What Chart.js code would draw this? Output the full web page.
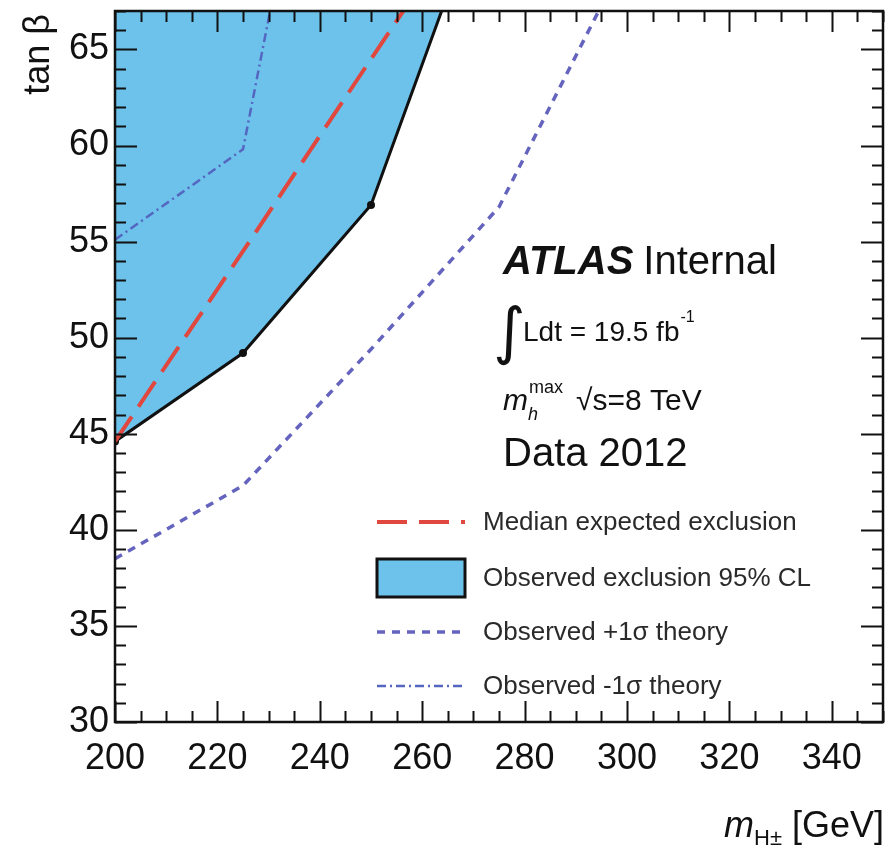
<!DOCTYPE html>
<html><head><meta charset="utf-8">
<script src="https://cdn.jsdelivr.net/npm/chart.js@4.4.1/dist/chart.umd.min.js"></script>
<style>html,body{margin:0;padding:0;background:#fff;}#wrap{width:895px;height:845px;}</style>
</head><body><div id="wrap"><canvas id="c" width="895" height="845"></canvas></div>
<script>
// ---- data ----
const massPoints       = [200, 225, 250, 275];
const observedExcl     = [44.6, 49.2, 56.9, 75.2];
const medianExpected   = [44.6, 54.5, 64.5, 74.4];
const plus1SigmaMass   = [200, 225, 250, 275, 300];
const obsPlus1Sigma    = [38.5, 42.3, 49.4, 56.8, 69.9];
const minus1SigmaMass  = [200, 225, 250];
const obsMinus1Sigma   = [55.1, 59.8, 93.8];
const xTickLabels      = [200, 220, 240, 260, 280, 300, 320, 340];
const yTickLabels      = [30, 35, 40, 45, 50, 55, 60, 65];
const legendLabels     = ['Median expected exclusion', 'Observed exclusion 95% CL', 'Observed +1\u03C3 theory', 'Observed -1\u03C3 theory'];

const FONT = '"Liberation Sans", Arial, Helvetica, sans-serif';
const pts = (xs, ys) => xs.map((x, i) => ({x: x, y: ys[i]}));

const COL_FILL = '#6CC2EB';
const COL_RED = '#E0473E';
const COL_P1 = '#6464BE';
const COL_M1 = '#5566C0';

const frameTicks = {
  id: 'frameTicks',
  afterDatasetsDraw(chart) {
    const {ctx, chartArea: a, scales: {x, y}} = chart;
    ctx.save();
    ctx.strokeStyle = '#111';
    ctx.lineWidth = 2;
    ctx.beginPath();
    for (let v = x.min; v <= x.max + 1e-9; v += 5) {
      const px = Math.round(x.getPixelForValue(v)) + 0.5;
      const len = ((v - 200) % 20 === 0) ? 21 : 11;
      ctx.moveTo(px, a.bottom); ctx.lineTo(px, a.bottom - len);
      ctx.moveTo(px, a.top); ctx.lineTo(px, a.top + len);
    }
    for (let v = 30; v <= y.max + 1e-9; v += 1) {
      const py = Math.round(y.getPixelForValue(v)) + 0.5;
      const len = (v % 5 === 0) ? 22 : 11;
      ctx.moveTo(a.left, py); ctx.lineTo(a.left + len, py);
      ctx.moveTo(a.right, py); ctx.lineTo(a.right - len, py);
    }
    ctx.stroke();
    ctx.lineWidth = 2.5;
    ctx.strokeRect(a.left, a.top, a.right - a.left, a.bottom - a.top);
    ctx.restore();
  }
};

const annotations = {
  id: 'annotations',
  afterDraw(chart) {
    const ctx = chart.ctx;
    ctx.save();
    ctx.fillStyle = '#111';
    ctx.textBaseline = 'alphabetic';
    ctx.textAlign = 'left';
    // ATLAS Internal
    ctx.font = 'italic bold 40px ' + FONT;
    ctx.fillText('ATLAS', 503, 274);
    let w = ctx.measureText('ATLAS').width;
    ctx.font = '40px ' + FONT;
    ctx.fillText('Internal', 503 + w + 10, 274);
    // integral L dt
    ctx.font = '62px "DejaVu Sans", ' + FONT;
    ctx.fillText('\u222B', 493, 352);
    ctx.font = '28px ' + FONT;
    ctx.fillText('Ldt = 19.5 fb', 523, 341);
    w = ctx.measureText('Ldt = 19.5 fb').width;
    ctx.font = '16px ' + FONT;
    ctx.fillText('-1', 523 + w + 1, 322);
    // m_h^max sqrt(s)=8 TeV
    ctx.font = 'italic 30px ' + FONT;
    ctx.fillText('m', 503, 410);
    ctx.font = '18px ' + FONT;
    ctx.fillText('max', 529, 393);
    ctx.font = 'italic 18px ' + FONT;
    ctx.fillText('h', 528, 420);
    ctx.font = '30px ' + FONT;
    ctx.fillText('\u221As=8 TeV', 576, 410);
    // Data 2012
    ctx.font = '40px ' + FONT;
    ctx.fillText('Data 2012', 503, 466);

    // x title
    ctx.font = '36px ' + FONT;
    const gev = ' [GeV]';
    const wg = ctx.measureText(gev).width;
    ctx.font = '22px ' + FONT;
    const wsub = ctx.measureText('H\u00B1').width;
    ctx.font = 'italic 36px ' + FONT;
    const wm = ctx.measureText('m').width;
    const right = 884;
    const x0 = right - wg - wsub - wm;
    ctx.fillText('m', x0, 837);
    ctx.font = '22px ' + FONT;
    ctx.fillText('H\u00B1', x0 + wm, 845);
    ctx.font = '36px ' + FONT;
    ctx.fillText(gev, x0 + wm + wsub, 837);

    // y title (rotated)
    ctx.save();
    ctx.translate(49, 14);
    ctx.rotate(-Math.PI / 2);
    ctx.textAlign = 'right';
    ctx.font = '36px ' + FONT;
    ctx.fillText('tan \u03B2', 0, 0);
    ctx.restore();

    // legend
    const ds = chart.data.datasets;
    const lx0 = 377, lx1 = 465, tx = 483;
    const rows = [522, 578, 632, 686];
    const order = [1, 0, 2, 3];
    ctx.font = '26px ' + FONT;
    ctx.textBaseline = 'middle';
    order.forEach((di, r) => {
      const d = ds[di];
      const yy = rows[r];
      if (di === 0) {
        ctx.fillStyle = COL_FILL;
        ctx.fillRect(lx0, yy - 19, lx1 - lx0, 38);
        ctx.lineWidth = 3;
        ctx.strokeStyle = '#111';
        ctx.strokeRect(lx0, yy - 19, lx1 - lx0, 38);
      } else {
        ctx.beginPath();
        ctx.setLineDash(d.borderDash || []);
        ctx.lineWidth = d.borderWidth;
        ctx.strokeStyle = d.borderColor;
        ctx.moveTo(lx0, yy); ctx.lineTo(lx1, yy);
        ctx.stroke();
        ctx.setLineDash([]);
      }
      ctx.fillStyle = '#2a2a2a';
      ctx.fillText(d.label, tx, yy + 1);
    });
    ctx.restore();
  }
};

new Chart(document.getElementById('c'), {
  type: 'line',
  data: {
    datasets: [
      {
        label: legendLabels[1],
        data: pts(massPoints, observedExcl),
        borderColor: '#111', borderWidth: 3,
        backgroundColor: COL_FILL,
        fill: 'end',
        pointRadius: 4, pointBackgroundColor: '#111', pointBorderWidth: 0,
        order: 4, clip: 0
      },
      {
        label: legendLabels[0],
        data: pts(massPoints, medianExpected),
        borderColor: COL_RED, borderWidth: 4, borderDash: [30, 12],
        pointRadius: 0, fill: false, order: 2, clip: 0
      },
      {
        label: legendLabels[2],
        data: pts(plus1SigmaMass, obsPlus1Sigma),
        borderColor: COL_P1, borderWidth: 3.5, borderDash: [8, 7],
        pointRadius: 0, fill: false, order: 3, clip: 0
      },
      {
        label: legendLabels[3],
        data: pts(minus1SigmaMass, obsMinus1Sigma),
        borderColor: COL_M1, borderWidth: 2.5, borderDash: [9, 4, 2, 4],
        pointRadius: 0, fill: false, order: 1, clip: 0
      }
    ]
  },
  options: {
    responsive: false, animation: false, devicePixelRatio: 1,
    layout: {padding: {top: 11, right: 12, left: 0, bottom: 0}},
    plugins: {legend: {display: false}, tooltip: {enabled: false}},
    elements: {line: {tension: 0}},
    scales: {
      x: {
        type: 'linear', min: 200, max: 350,
        afterBuildTicks: s => { s.ticks = xTickLabels.map(v => ({value: v})); },
        afterFit: s => { s.height = 123; s.paddingLeft = 0; s.paddingRight = 0; },
        ticks: {font: {family: FONT, size: 36}, color: '#111', padding: 15, maxRotation: 0, autoSkip: false},
        grid: {display: false, drawTicks: false}, border: {display: false}
      },
      y: {
        type: 'linear', min: 30, max: 67,
        afterBuildTicks: s => { s.ticks = yTickLabels.map(v => ({value: v})); },
        afterFit: s => { s.width = 115; s.paddingTop = 0; s.paddingBottom = 0; },
        ticks: {font: {family: FONT, size: 36}, color: '#111', padding: 6, autoSkip: false},
        grid: {display: false, drawTicks: false}, border: {display: false}
      }
    }
  },
  plugins: [frameTicks, annotations]
});
</script></body></html>
